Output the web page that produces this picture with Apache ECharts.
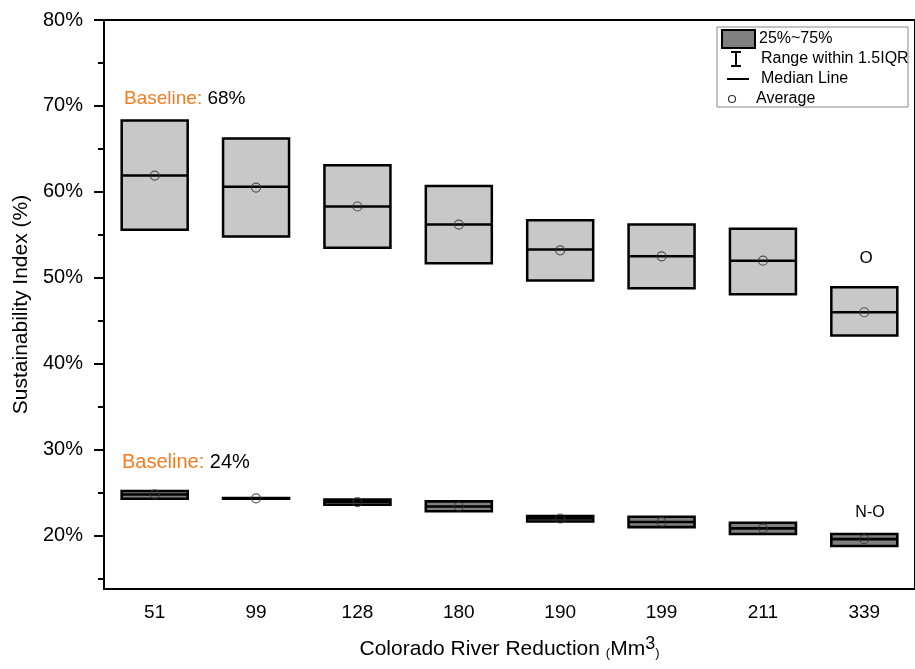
<!DOCTYPE html>
<html>
<head>
<meta charset="utf-8">
<script src="https://cdn.jsdelivr.net/npm/echarts@6/dist/echarts.min.js"></script>
<style>
  html, body { margin: 0; padding: 0; background: #fff; }
  #chart { width: 915px; height: 669px; }
</style>
</head>
<body>
<div id="chart"></div>
<script>
// Reduction scenarios on the Colorado River (Mm3)
const categories = ['51', '99', '128', '180', '190', '199', '211', '339'];

// "O" scenario: interquartile box, median and average (%)
const oQ1     = [55.6, 54.8, 53.5, 51.7, 49.7, 48.8, 48.1, 43.3];
const oMedian = [61.9, 60.6, 58.3, 56.2, 53.3, 52.5, 52.0, 46.0];
const oQ3     = [68.3, 66.2, 63.1, 60.7, 56.7, 56.2, 55.7, 48.9];
const oMean   = [61.9, 60.5, 58.3, 56.2, 53.2, 52.5, 52.0, 46.0];

// "N-O" scenario: interquartile box, median and average (%)
const noQ1     = [24.3, 24.31, 23.6, 22.85, 21.65, 21.0, 20.2, 18.8];
const noMedian = [24.8, 24.35, 23.95, 23.4, 22.0, 21.6, 20.85, 19.6];
const noQ3     = [25.2, 24.39, 24.2, 24.0, 22.3, 22.2, 21.5, 20.2];
const noMean   = [24.8, 24.35, 23.9, 23.4, 22.0, 21.6, 20.85, 19.6];

// Y axis ticks (%)
const majorTicks = [20, 30, 40, 50, 60, 70, 80];
const minorTicks = [15, 25, 35, 45, 55, 65, 75];
const yMin = 13.8;
const yMax = 80;

const FONT = "Arial, 'Liberation Sans', sans-serif";

// whiskers span the box itself: [min, Q1, median, Q3, max]
function boxData(q1, med, q3) {
  return q1.map((v, i) => [v, v, med[i], q3[i], q3[i]]);
}
function meanData(mean) {
  return mean.map((v, i) => [categories[i], v]);
}

const chart = echarts.init(document.getElementById('chart'), null, { renderer: 'canvas' });

const meanStyle = {
  type: 'scatter',
  xAxisIndex: 0,
  symbol: 'circle',
  symbolSize: 9,
  silent: true,
  z: 5,
  itemStyle: { color: 'rgba(0,0,0,0)', borderColor: '#333', borderWidth: 1.2 }
};

chart.setOption({
  animation: false,
  backgroundColor: '#fff',
  grid: {
    left: 104, top: 20, width: 816, height: 569,
    show: true, borderColor: '#000', borderWidth: 2, backgroundColor: 'transparent'
  },
  xAxis: [
    {
      type: 'category',
      data: categories,
      boundaryGap: true,
      axisLine: { lineStyle: { color: '#000', width: 2 } },
      axisTick: { alignWithLabel: true, length: 8, lineStyle: { color: '#000', width: 2 } },
      axisLabel: { color: '#000', fontSize: 19, fontFamily: FONT, margin: 14 },
      splitLine: { show: false },
      name: '{a|Colorado River Reduction }{p|(}{a|Mm}{s|3}{p|)}',
      nameLocation: 'middle',
      nameGap: 46,
      nameTextStyle: {
        color: '#000', fontSize: 20, fontFamily: FONT,
        rich: {
          a: { fontSize: 21, fontFamily: FONT, color: '#000', verticalAlign: 'bottom' },
          p: { fontSize: 13, fontFamily: FONT, color: '#000', verticalAlign: 'bottom' },
          s: { fontSize: 18, fontFamily: FONT, color: '#000', verticalAlign: 'bottom', padding: [0, 0, 7, 0] }
        }
      }
    },
    {
      // twin category axis so both box series sit centred on each category
      type: 'category',
      data: categories,
      boundaryGap: true,
      position: 'bottom',
      show: false
    }
  ],
  yAxis: [
    {
      type: 'value',
      min: yMin, max: yMax,
      axisLine: { show: true, lineStyle: { color: '#000', width: 2 } },
      axisTick: { show: true, length: 10, customValues: majorTicks, lineStyle: { color: '#000', width: 2 } },
      axisLabel: { color: '#000', fontSize: 20, fontFamily: FONT, margin: 21,
                   customValues: majorTicks, formatter: v => v + '%' },
      splitLine: { show: false },
      name: 'Sustainability Index (%)',
      nameLocation: 'middle',
      nameGap: 58,
      nameTextStyle: { color: '#000', fontSize: 21, fontFamily: FONT }
    },
    {
      type: 'value',
      min: yMin, max: yMax,
      position: 'left',
      axisLine: { show: false },
      axisTick: { show: true, length: 6, customValues: minorTicks, lineStyle: { color: '#000', width: 2 } },
      axisLabel: { show: false },
      splitLine: { show: false }
    }
  ],
  series: [
    {
      name: 'O',
      type: 'boxplot',
      xAxisIndex: 0,
      data: boxData(oQ1, oMedian, oQ3),
      boxWidth: [66, 66],
      silent: true,
      itemStyle: { color: '#c8c8c8', borderColor: '#000', borderWidth: 2.5 }
    },
    {
      name: 'N-O',
      type: 'boxplot',
      xAxisIndex: 1,
      data: boxData(noQ1, noMedian, noQ3),
      boxWidth: [66, 66],
      silent: true,
      itemStyle: { color: '#808080', borderColor: '#000', borderWidth: 2.6 }
    },
    Object.assign({ name: 'O average', data: meanData(oMean) }, meanStyle),
    Object.assign({ name: 'N-O average', data: meanData(noMean) }, meanStyle)
  ],
  graphic: [
    // legend panel
    { type: 'rect', shape: { x: 717, y: 27, width: 191, height: 80 },
      style: { fill: '#fff', stroke: '#888', lineWidth: 1 }, z: 10 },
    { type: 'rect', shape: { x: 722, y: 30, width: 33, height: 18 },
      style: { fill: '#808080', stroke: '#000', lineWidth: 2 }, z: 11 },
    { type: 'text', x: 759, y: 39, z: 11,
      style: { text: '25%~75%', font: '16px ' + FONT, fill: '#000', verticalAlign: 'middle' } },
    { type: 'line', shape: { x1: 736, y1: 52, x2: 736, y2: 66 },
      style: { stroke: '#000', lineWidth: 2 }, z: 11 },
    { type: 'line', shape: { x1: 731, y1: 52, x2: 741, y2: 52 },
      style: { stroke: '#000', lineWidth: 2 }, z: 11 },
    { type: 'line', shape: { x1: 731, y1: 66, x2: 741, y2: 66 },
      style: { stroke: '#000', lineWidth: 2 }, z: 11 },
    { type: 'text', x: 761, y: 59, z: 11,
      style: { text: 'Range within 1.5IQR', font: '16px ' + FONT, fill: '#000', verticalAlign: 'middle' } },
    { type: 'line', shape: { x1: 727, y1: 79, x2: 749, y2: 79 },
      style: { stroke: '#000', lineWidth: 2 }, z: 11 },
    { type: 'text', x: 761, y: 79, z: 11,
      style: { text: 'Median Line', font: '16px ' + FONT, fill: '#000', verticalAlign: 'middle' } },
    { type: 'circle', shape: { cx: 732, cy: 99, r: 3.5 },
      style: { fill: 'none', stroke: '#333', lineWidth: 1.2 }, z: 11 },
    { type: 'text', x: 756, y: 99, z: 11,
      style: { text: 'Average', font: '16px ' + FONT, fill: '#000', verticalAlign: 'middle' } },

    // baseline notes
    { type: 'text', x: 124, y: 99, z: 11,
      style: { text: '{o|Baseline: }{k|68%}', verticalAlign: 'middle',
               rich: { o: { fill: '#f47b20', font: '19px ' + FONT }, k: { fill: '#000', font: '19px ' + FONT } } } },
    { type: 'text', x: 122, y: 462, z: 11,
      style: { text: '{o|Baseline: }{k|24%}', verticalAlign: 'middle',
               rich: { o: { fill: '#f47b20', font: '20px ' + FONT }, k: { fill: '#000', font: '20px ' + FONT } } } },

    // scenario tags
    { type: 'text', x: 866, y: 258, z: 11,
      style: { text: 'O', font: '17px ' + FONT, fill: '#000', align: 'center', verticalAlign: 'middle' } },
    { type: 'text', x: 870, y: 513, z: 11,
      style: { text: 'N-O', font: '16px ' + FONT, fill: '#000', align: 'center', verticalAlign: 'middle' } }
  ]
});
</script>
</body>
</html>
